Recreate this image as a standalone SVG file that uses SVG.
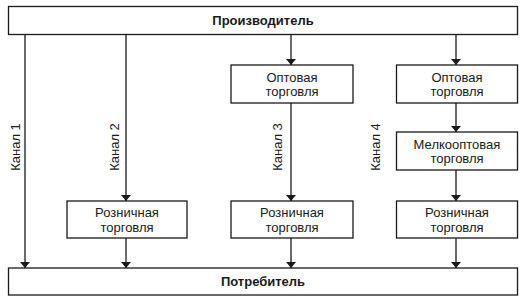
<svg xmlns="http://www.w3.org/2000/svg" width="525" height="301" viewBox="0 0 525 301">
<style>
.box{fill:#fff;stroke:#1a1a1a;stroke-width:1.3}
.t{font-family:"Liberation Sans",Arial,sans-serif;font-size:13px;fill:#1a1a1a;text-anchor:middle}
.b{font-weight:bold}
.c{stroke:#1a1a1a;stroke-width:1.3;fill:none;marker-end:url(#ah)}
</style>
<defs>
<marker id="ah" viewBox="0 0 6 10" refX="6" refY="5" markerWidth="6" markerHeight="10" markerUnits="userSpaceOnUse" orient="auto-start-reverse">
<path d="M0,0 L10,5 L0,10 z" transform="scale(0.6,1)" fill="#1a1a1a"/>
</marker>
</defs>
<rect width="525" height="301" fill="#fff"/>
<g id="connectors">
<line class="c" x1="25" y1="34" x2="25" y2="268"/>
<line class="c" x1="126" y1="34" x2="126" y2="201"/>
<line class="c" x1="126" y1="238" x2="126" y2="268"/>
<line class="c" x1="291" y1="34" x2="291" y2="65"/>
<line class="c" x1="291" y1="103" x2="291" y2="201"/>
<line class="c" x1="291" y1="238" x2="291" y2="268"/>
<line class="c" x1="456" y1="34" x2="456" y2="65"/>
<line class="c" x1="456" y1="103" x2="456" y2="132"/>
<line class="c" x1="456" y1="170" x2="456" y2="201"/>
<line class="c" x1="456" y1="238" x2="456" y2="268"/>
</g>
<g id="producer">
<rect class="box" x="8.5" y="6.5" width="509" height="28"/>
<text class="t b" x="263" y="25">Производитель</text>
</g>
<g id="consumer">
<rect class="box" x="8.5" y="268" width="509" height="27"/>
<text class="t b" x="263" y="286">Потребитель</text>
</g>
<g id="wholesale3">
<rect class="box" x="231" y="65" width="122" height="38"/>
<text class="t" x="292" y="81.5">Оптовая</text>
<text class="t" x="292" y="96">торговля</text>
</g>
<g id="wholesale4">
<rect class="box" x="396.5" y="65" width="121" height="38"/>
<text class="t" x="457" y="81.5">Оптовая</text>
<text class="t" x="457" y="96">торговля</text>
</g>
<g id="smallwholesale4">
<rect class="box" x="396.5" y="132" width="121" height="38"/>
<text class="t" x="457" y="148.5">Мелкооптовая</text>
<text class="t" x="457" y="163">торговля</text>
</g>
<g id="retail2">
<rect class="box" x="67" y="201" width="120" height="37"/>
<text class="t" x="127" y="217">Розничная</text>
<text class="t" x="127" y="232">торговля</text>
</g>
<g id="retail3">
<rect class="box" x="231" y="201" width="122" height="37"/>
<text class="t" x="292" y="217">Розничная</text>
<text class="t" x="292" y="232">торговля</text>
</g>
<g id="retail4">
<rect class="box" x="396.5" y="201" width="121" height="37"/>
<text class="t" x="457" y="217">Розничная</text>
<text class="t" x="457" y="232">торговля</text>
</g>
<g id="labels">
<text class="t" transform="translate(19.5,147) rotate(-90)">Канал 1</text>
<text class="t" transform="translate(119,147) rotate(-90)">Канал 2</text>
<text class="t" transform="translate(282,147) rotate(-90)">Канал 3</text>
<text class="t" transform="translate(380,147) rotate(-90)">Канал 4</text>
</g>
</svg>
